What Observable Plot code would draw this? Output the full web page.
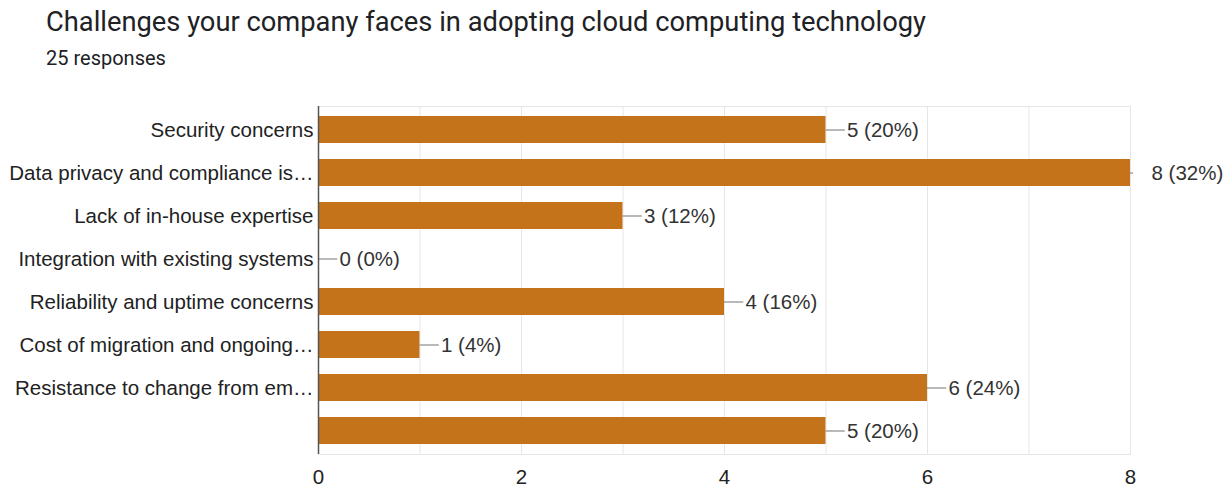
<!DOCTYPE html>
<html>
<head>
<meta charset="utf-8">
<script src="https://cdn.jsdelivr.net/npm/d3@7"></script>
<script src="https://cdn.jsdelivr.net/npm/@observablehq/plot@0.6"></script>
<style>
  html, body { margin: 0; padding: 0; background: #fff; }
  #wrap { width: 1228px; height: 488px; position: relative; overflow: hidden; }
  #title { position: absolute; left: 46px; top: 7px; font-family: Roboto, sans-serif; font-size: 27.3px; line-height: 1.17; color: #202124; white-space: nowrap; }
  #sub { position: absolute; left: 46px; top: 47px; font-family: Roboto, sans-serif; font-size: 20px; line-height: 1.17; color: #202124; }
  #chart { position: absolute; left: 0; top: 90px; }
</style>
</head>
<body>
<div id="wrap">
  <div id="title">Challenges your company faces in adopting cloud computing technology</div>
  <div id="sub">25 responses</div>
  <div id="chart"></div>
</div>
<script>
const categories = [
  "Security concerns",
  "Data privacy and compliance is…",
  "Lack of in-house expertise",
  "Integration with existing systems",
  "Reliability and uptime concerns",
  "Cost of migration and ongoing…",
  "Resistance to change from em…",
  ""
];
const counts = [5, 8, 3, 0, 4, 1, 6, 5];
const totalResponses = 25;
const xTicks = [0, 2, 4, 6, 8];
const gridTicks = [0, 1, 2, 3, 4, 5, 6, 7, 8];

const maxCount = d3.max(counts);
const data = categories.map((c, i) => ({
  key: i,
  label: c,
  value: counts[i],
  text: `${counts[i]} (${Math.round(counts[i] / totalResponses * 100)}%)`
}));

const font = "'Liberation Sans', Arial, sans-serif";

const chart = Plot.plot({
  width: 1228,
  height: 398,
  marginLeft: 318,
  marginRight: 98,
  marginTop: 16,
  marginBottom: 34,
  style: { fontFamily: font, fontSize: "20.5px", color: "#222", background: "#fff", overflow: "visible" },
  x: { domain: [0, 8], ticks: xTicks, tickSize: 0, tickPadding: 15, label: null },
  y: { domain: data.map(d => d.key), paddingInner: 0.38, paddingOuter: 0.19, tickSize: 0, tickPadding: 5, label: null, tickFormat: i => categories[i] },
  marks: [
    Plot.ruleX(gridTicks, { stroke: "#e6e6e6", strokeWidth: 1 }),
    Plot.frame({ stroke: "#e6e6e6" }),
    Plot.barX(data, { x: "value", y: "key", fill: "#c5731a" }),
    Plot.ruleY(data, { y: "key", x1: "value", x2: d => d.value + (d.value === maxCount ? 0.03 : 0.19), stroke: "#8a8a8a", strokeWidth: 1.2 }),
    Plot.text(data, { x: "value", y: "key", text: "text", dx: 21, textAnchor: "start", fill: "#333", fontSize: 20.5 }),
    Plot.ruleX([0], { stroke: "#555", strokeWidth: 1.5 })
  ]
});
document.getElementById("chart").appendChild(chart);
</script>
</body>
</html>
